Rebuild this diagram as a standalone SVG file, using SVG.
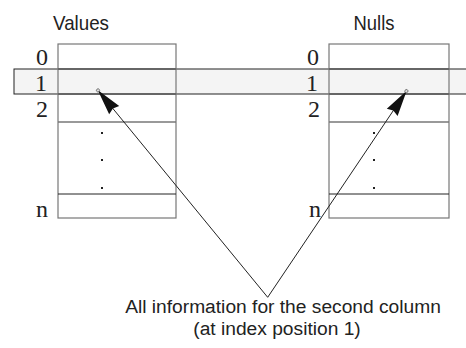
<svg xmlns="http://www.w3.org/2000/svg" width="466" height="348" viewBox="0 0 466 348">
<style>
.lbl{font-family:"Liberation Sans",Arial,sans-serif;font-size:21px;fill:#222;text-anchor:middle}
.cap{font-family:"Liberation Sans",Arial,sans-serif;font-size:19.2px;fill:#222;text-anchor:middle}
.idx{font-family:"Liberation Serif","Times New Roman",serif;font-size:24px;fill:#222;text-anchor:middle}
.box{fill:#fff;stroke:none}
.edge{fill:none;stroke:#777;stroke-width:1.2}
.row{stroke:#666;stroke-width:2}
.row2{stroke:#777;stroke-width:1.5}
.rowb{stroke:#222;stroke-width:1}
.dot{fill:#222}
.conn{stroke:#222;stroke-width:1;fill:none}
</style>
<defs>
<marker id="ah" markerUnits="userSpaceOnUse" markerWidth="32" markerHeight="18" viewBox="-28 -9 32 18" refX="0" refY="0" orient="auto">
<path d="M0,0 L-26,-6.5 L-24,0 L-26,6.5 Z" fill="#111"/>
<circle cx="-0.5" cy="0" r="1.6" fill="#ddd" stroke="#666" stroke-width="0.8"/>
</marker>
</defs>
<rect width="466" height="348" fill="#fff"/>
<g id="values-column">
<rect class="box" x="58" y="44" width="118" height="174"/>
</g>
<g id="nulls-column">
<rect class="box" x="329" y="44" width="120" height="174"/>
</g>
<g id="highlight-row">
<rect x="14" y="69" width="460" height="25" fill="#f4f4f4" stroke="#222" stroke-width="1"/>
</g>
<g id="values-grid">
<rect class="edge" x="58" y="44" width="118" height="174"/>
<line class="row" x1="58" y1="69" x2="176" y2="69"/>
<line class="row" x1="58" y1="94" x2="176" y2="94"/>
<line class="row2" x1="58" y1="122" x2="176" y2="122"/>
<line class="rowb" x1="58" y1="194" x2="176" y2="194"/>
<rect class="dot" x="101" y="132" width="2" height="2"/>
<rect class="dot" x="101" y="159" width="2" height="2"/>
<rect class="dot" x="101" y="187" width="2" height="2"/>
<text class="lbl" x="81" y="30" textLength="56" lengthAdjust="spacingAndGlyphs">Values</text>
<text class="idx" x="42" y="65">0</text>
<text class="idx" x="41" y="91">1</text>
<text class="idx" x="42" y="117">2</text>
<text class="idx" x="42" y="217">n</text>
</g>
<g id="nulls-grid">
<rect class="edge" x="329" y="44" width="120" height="174"/>
<line class="row" x1="329" y1="69" x2="449" y2="69"/>
<line class="row" x1="329" y1="94" x2="449" y2="94"/>
<line class="row2" x1="329" y1="122" x2="449" y2="122"/>
<line class="rowb" x1="329" y1="194" x2="449" y2="194"/>
<rect class="dot" x="373" y="132" width="2" height="2"/>
<rect class="dot" x="373" y="159" width="2" height="2"/>
<rect class="dot" x="373" y="187" width="2" height="2"/>
<text class="lbl" x="374" y="30" textLength="41" lengthAdjust="spacingAndGlyphs">Nulls</text>
<text class="idx" x="313" y="65">0</text>
<text class="idx" x="312" y="91">1</text>
<text class="idx" x="314" y="117">2</text>
<text class="idx" x="315" y="217">n</text>
</g>
<g id="connectors">
<line class="conn" x1="267.7" y1="297.3" x2="97.7" y2="90" marker-end="url(#ah)"/>
<line class="conn" x1="267.7" y1="297.3" x2="406.7" y2="90.7" marker-end="url(#ah)"/>
</g>
<g id="caption">
<text class="cap" x="283" y="313">All information for the second column</text>
<text class="cap" x="277" y="335">(at index position 1)</text>
</g>
</svg>
